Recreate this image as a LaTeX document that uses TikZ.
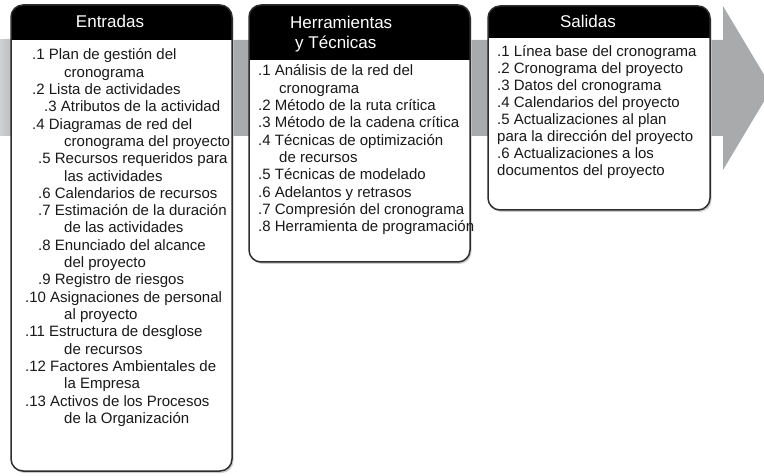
\documentclass[tikz,border=0pt]{standalone}
\usepackage{fontspec}
\setmainfont{Liberation Sans}
\definecolor{bandgray}{RGB}{168,170,172}
\definecolor{bandlight}{RGB}{208,209,211}
\definecolor{framecol}{RGB}{45,45,45}
\definecolor{shadowcol}{RGB}{205,205,205}
\definecolor{textcol}{RGB}{25,25,25}
\begin{document}
\begin{tikzpicture}[x=1pt,y=-1pt,
  item/.style={anchor=base west, inner sep=0pt, font=\fontsize{15}{17}\selectfont, text=textcol},
  titlec/.style={anchor=base, inner sep=0pt, font=\fontsize{17}{20}\selectfont, text=white},
  titlew/.style={anchor=base west, inner sep=0pt, font=\fontsize{17}{20}\selectfont, text=white},
  panelframe/.style={draw=framecol, line width=1.5pt, rounded corners=12pt},
  panelshadow/.style={fill=shadowcol, rounded corners=12pt},
]
\useasboundingbox (0,0) rectangle (764,476);
% gray process arrow
\begin{scope}
  \clip (0,0) rectangle (764,476);
  \fill[bandgray] (0,40) -- (723,40) -- (723,6) -- (772,88) -- (723,170) -- (723,136) -- (0,136) -- cycle;
  \shade[left color=bandlight, right color=bandgray] (0,40) rectangle (22,136);
\end{scope}
% panels: shadow, white body, black header, frame
\foreach \l/\t/\r/\b/\h in {11/5/232/471/40, 249/5/470/262/60, 488/6/710/210/38}{
  \path[panelshadow] (\l+1.5,\t+2) rectangle (\r+1.5,\b+2);
  \fill[white, rounded corners=12pt] (\l,\t) rectangle (\r,\b);
  \begin{scope}
    \clip[rounded corners=12pt] (\l,\t) rectangle (\r,\b);
    \fill[black] (\l,\t) rectangle (\r,\h);
  \end{scope}
  \path[panelframe] (\l,\t) rectangle (\r,\b);
}
% titles
\node[titlec] (t1) at (110,28) {Entradas};
\node[titlew] (t2a) at (290,29) {Herramientas};
\node[titlew] (t2b) at (295,49) {y Técnicas};
\node[titlec] (t3) at (588,28) {Salidas};
% Entradas
\foreach \x/\y/\t [count=\i] in {
32/60/.1 Plan de gestión del,
64/77.3/cronograma,
32/94.6/.2 Lista de actividades,
44/111.9/.3 Atributos de la actividad,
32/129.2/.4 Diagramas de red del,
64/146.5/cronograma del proyecto,
38/163.8/.5 Recursos requeridos para,
64/181.1/las actividades,
38/198.4/.6 Calendarios de recursos,
38/215.7/.7 Estimación de la duración,
64/233/de las actividades,
38/250.3/.8 Enunciado del alcance,
64/267.6/del proyecto,
38/284.9/.9 Registro de riesgos,
25/302.2/.10 Asignaciones de personal,
64/319.5/al proyecto,
25/336.8/.11 Estructura de desglose,
64/354.1/de recursos,
25/371.4/.12 Factores Ambientales de,
64/388.7/la Empresa,
25/406/.13 Activos de los Procesos,
64/423.3/de la Organización}{
  \node[item] (e\i) at (\x,\y) {\t};
}
% Herramientas y Tecnicas
\foreach \x/\y/\t [count=\i] in {
258/76/.1 Análisis de la red del,
279/93.3/cronograma,
258/110.6/.2 Método de la ruta crítica,
258/127.9/.3 Método de la cadena crítica,
258/145.2/.4 Técnicas de optimización,
279/162.5/de recursos,
258/179.8/.5 Técnicas de modelado,
258/197.1/.6 Adelantos y retrasos,
258/214.4/.7 Compresión del cronograma,
258/231.7/.8 Herramienta de programación}{
  \node[item] (h\i) at (\x,\y) {\t};
}
% Salidas
\foreach \x/\y/\t [count=\i] in {
497/56.5/.1 Línea base del cronograma,
497/73.5/.2 Cronograma del proyecto,
497/90.5/.3 Datos del cronograma,
497/107.5/.4 Calendarios del proyecto,
497/124.5/.5 Actualizaciones al plan,
497/141.5/para la dirección del proyecto,
497/158.5/.6 Actualizaciones a los,
497/175.5/documentos del proyecto}{
  \node[item] (s\i) at (\x,\y) {\t};
}
\end{tikzpicture}
\end{document}
